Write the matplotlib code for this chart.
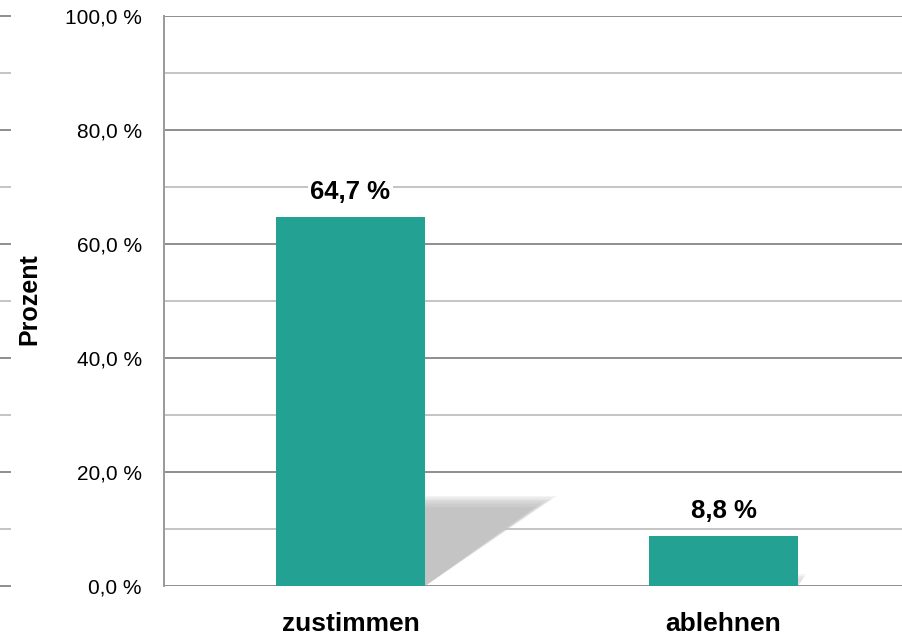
import numpy as np
import matplotlib
matplotlib.use("Agg")
import matplotlib.pyplot as plt
from matplotlib import rcParams
import matplotlib.transforms as mtrans

rcParams["font.family"] = ["Liberation Sans", "DejaVu Sans"]

# data
categories = ["zustimmen", "ablehnen"]
values = [64.7, 8.8]
major_ticks = [0, 20, 40, 60, 80, 100]
minor_ticks = [10, 30, 50, 70, 90]

bar_color = "#23a192"
major_grid = "#8e8e8e"
minor_grid = "#c4c4c4"

fig = plt.figure(figsize=(9.02, 6.37), dpi=100)
ax = fig.add_axes([164/902, 51/637, 746/902, 570/637])

x = np.arange(len(categories))
ax.bar(x, values, width=0.4, color=bar_color, zorder=3)

# soft shadow behind the first bar
bx = x[0] + 0.2
for i in range(10):
    top = 13.6 + i * 0.25
    tri = plt.Polygon([(bx, 0), (bx, top), (bx + 0.29 + i * 0.007, top)],
                      closed=True, facecolor="#b8b8b8", edgecolor="none",
                      alpha=0.14, zorder=0.2)
    ax.add_patch(tri)
# faint shadow on the second bar
for i in range(4):
    sh = plt.Polygon([(x[1] + 0.2, 0), (x[1] + 0.2, 1.2 + i * 0.3), (x[1] + 0.21 + i * 0.004, 1.2 + i * 0.3)],
                     closed=True, facecolor="#c8c8c8", edgecolor="none", alpha=0.2, zorder=0.2)
    ax.add_patch(sh)

for xi, v in zip(x, values):
    ax.text(xi, v + 4.4, f"{v:.1f} %".replace(".", ","), ha="center", va="center",
            fontsize=18.5, fontweight="bold", zorder=4,
            bbox=dict(facecolor="white", edgecolor="none", pad=1.5))

ax.set_xlim(-0.5, 1.5)
ax.set_ylim(0, 100)
ax.set_xticks(x)
ax.set_xticklabels(categories, fontsize=19, fontweight="bold")
ax.set_yticks(major_ticks)
ax.set_yticklabels([f"{t:.1f} %".replace(".", ",") for t in major_ticks], fontsize=15)
ax.tick_params(axis="y", length=0, pad=16)
ax.tick_params(axis="x", length=0, pad=19)

ax.set_axisbelow(True)
for t in major_ticks:
    ax.axhline(t, color=major_grid, lw=1.4, zorder=0.5)
for t in minor_ticks:
    ax.axhline(t, color=minor_grid, lw=1.4, zorder=0.5)

for s in ["top", "right", "bottom"]:
    ax.spines[s].set_visible(False)
ax.spines["left"].set_color("#9a9a9a")
ax.spines["left"].set_linewidth(1.4)

# stubs at the very left edge
trans = mtrans.blended_transform_factory(fig.transFigure, ax.transData)
for t in major_ticks:
    ax.plot([0, 10/902], [t, t], color=major_grid, lw=1.4, transform=trans, clip_on=False)
for t in minor_ticks:
    ax.plot([0, 10/902], [t, t], color=minor_grid, lw=1.4, transform=trans, clip_on=False)

fig.text(29/902, 1 - 299/637, "Prozent", rotation=90, ha="center", va="center",
         fontsize=18, fontweight="bold")

fig.savefig("out.png", dpi=100)
